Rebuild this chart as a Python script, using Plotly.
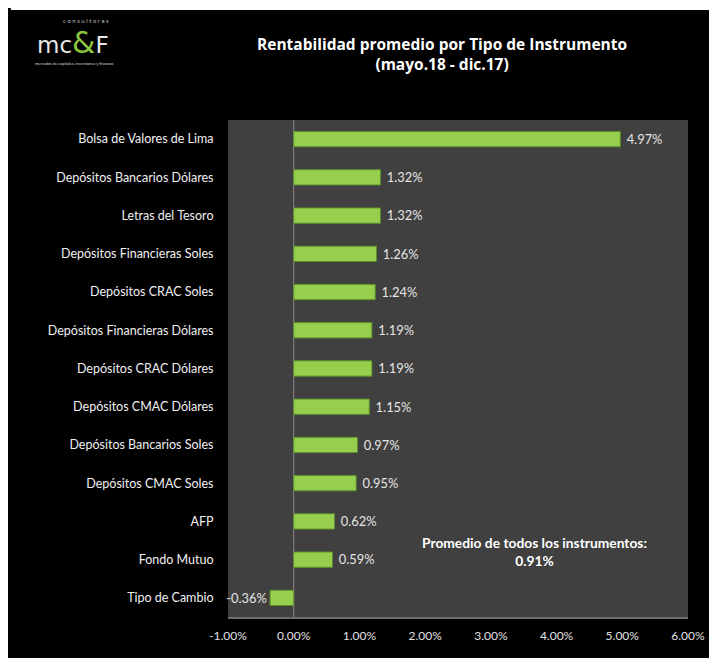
import plotly.graph_objects as go

categories = [
    "Bolsa de Valores de Lima",
    "Depósitos Bancarios Dólares",
    "Letras del Tesoro",
    "Depósitos Financieras Soles",
    "Depósitos CRAC Soles",
    "Depósitos Financieras Dólares",
    "Depósitos CRAC Dólares",
    "Depósitos CMAC Dólares",
    "Depósitos Bancarios Soles",
    "Depósitos CMAC Soles",
    "AFP",
    "Fondo Mutuo",
    "Tipo de Cambio",
]
values = [4.97, 1.32, 1.32, 1.26, 1.24, 1.19, 1.19, 1.15, 0.97, 0.95, 0.62, 0.59, -0.36]
tick_vals = [-1, 0, 1, 2, 3, 4, 5, 6]
average_value = 0.91
title_lines = ["Rentabilidad promedio por Tipo de Instrumento", "(mayo.18 - dic.17)"]

FONT = "Lato"

fig = go.Figure()
fig.add_trace(go.Bar(
    x=values, y=categories, orientation="h",
    width=0.4,
    marker=dict(color="#96cf4e", line=dict(color="#5f8f2c", width=1)),
    text=[(f" {v:.2f}%" if v >= 0 else f"{v:.2f}%") for v in values],
    textposition="outside",
    textfont=dict(color="#e4e4e4", size=13.5, family=FONT),
    cliponaxis=False,
))

# page offset (body margin 8px)
OX, OY = 8, 8
W, H = 709, 650
L, R, T, B = 220, 23, 112, 41
pw, ph = W - L - R, H - T - B

def px(x):  # page x -> paper
    return (x - OX - L) / pw

def py(y):  # page y -> paper
    return (H - B - (y - OY)) / ph

shapes = [
    dict(type="rect", xref="paper", yref="paper", x0=px(OX), x1=px(OX + W), y0=py(OY), y1=py(10),
         fillcolor="white", line=dict(width=0), layer="above"),
    dict(type="line", xref="x", yref="paper", x0=0, x1=0, y0=0, y1=1,
         line=dict(color="#8a8a8a", width=1), layer="below"),
]

annotations = [
    dict(text="<b>" + title_lines[0] + "</b><br><b>" + title_lines[1] + "</b>", xref="paper", yref="paper",
         x=px(445), y=py(54), showarrow=False, font=dict(color="white", size=15.5, family="Open Sans"),
         xanchor="center", yanchor="middle", align="center"),
    dict(text=f"<b>Promedio de todos los instrumentos:</b><br><b>{average_value:.2f}%</b>",
         xref="paper", yref="paper", x=px(539), y=py(551), showarrow=False,
         font=dict(color="white", size=13.8, family=FONT), align="center",
         xanchor="center", yanchor="middle"),
    # logo
    dict(text="c o n s u l t o r e s", xref="paper", yref="paper", x=px(84), y=py(20),
         showarrow=False, font=dict(color="#bbbbbb", size=6, family=FONT),
         xanchor="center", yanchor="middle"),
    dict(text="<span style='color:#e8e8e8'>mc</span><span style='color:#8cc63f;font-size:30px'>&</span><span style='color:#e8e8e8'>F</span>",
         xref="paper", yref="paper", x=px(71), y=py(43), showarrow=False,
         font=dict(size=23, family="DejaVu Sans ExtraLight, DejaVu Sans"),
         xanchor="center", yanchor="middle"),
    dict(text="mercados de capitales, inversiones y finanzas", xref="paper", yref="paper",
         x=px(72), y=py(64), showarrow=False, font=dict(color="#dddddd", size=4, family=FONT),
         xanchor="center", yanchor="middle"),
]

fig.update_layout(
    width=W, height=H,
    margin=dict(l=L, r=R, t=T, b=B, pad=0),
    paper_bgcolor="black",
    plot_bgcolor="#404040",
    showlegend=False,
    shapes=shapes,
    annotations=annotations,
    font=dict(family=FONT, color="#e6e6e6"),
    xaxis=dict(
        range=[-1, 6], tickvals=tick_vals, ticktext=[f"{v:.2f}%" for v in tick_vals],
        showgrid=False, zeroline=False, showline=True, linecolor="#6e6e6e", linewidth=2,
        ticks="outside", ticklen=7, tickcolor="black",
        tickfont=dict(size=12, color="#e0e0e0", family=FONT), fixedrange=True,
    ),
    yaxis=dict(
        autorange="reversed", showgrid=False, zeroline=False, showline=False,
        ticks="outside", ticklen=11, tickcolor="black",
        tickfont=dict(size=12.5, color="#f0f0f0", family=FONT),
    ),
)

fig.write_html("out.html")
